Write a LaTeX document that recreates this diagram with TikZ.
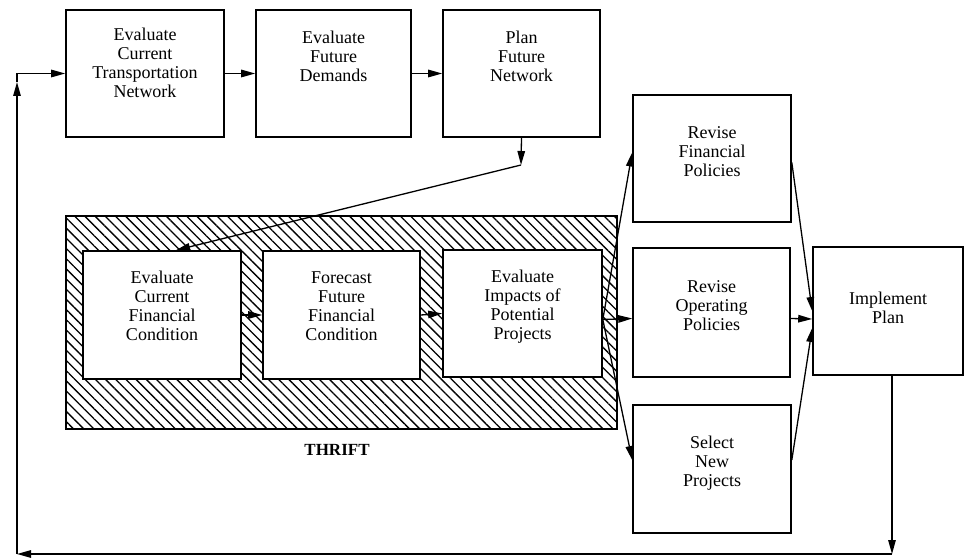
\documentclass[tikz,border=0pt]{standalone}
\usepackage{fontspec}
\setmainfont{Liberation Serif}
\usetikzlibrary{arrows.meta,patterns.meta}
\begin{document}
\begin{tikzpicture}[x=1pt,y=-1pt,
  box/.style={draw, line width=1.6pt, fill=white, align=center, inner sep=0pt,
              font=\fontsize{18}{19}\selectfont},
  lift/.style={text depth=#1},
  arr/.style={line width=1.3pt, -{Triangle[length=14pt,width=7.5pt]}},
  link/.style={line width=1.3pt},
  hatch/.style={draw, line width=1.6pt,
                pattern={Lines[angle=-45, distance=7.2pt, line width=1.3pt]}},
  ]
\useasboundingbox (0,0) rectangle (966,559);

% planning steps along the top
\node[box, minimum width=158pt, minimum height=127pt, lift=22pt] (b1) at (145,73.5)
  {Evaluate\\Current\\Transportation\\Network};
\node[box, minimum width=155pt, minimum height=127pt, lift=34pt] (b2) at (333.5,73.5)
  {Evaluate\\Future\\Demands};
\node[box, minimum width=157pt, minimum height=127pt, lift=34pt] (b3) at (521.5,73.5)
  {Plan\\Future\\Network};

% THRIFT model: hatched frame with its three steps
\path[hatch] (66,216) rectangle (617,429);
\node[box, minimum width=158pt, minimum height=128pt, lift=18pt] (ecf) at (162,315)
  {Evaluate\\Current\\Financial\\Condition};
\node[box, minimum width=157pt, minimum height=128pt, lift=18pt] (ffc) at (341.5,315)
  {Forecast\\Future\\Financial\\Condition};
\node[box, minimum width=159pt, minimum height=127pt, lift=18pt] (eip) at (522.5,313.5)
  {Evaluate\\Impacts of\\Potential\\Projects};
\node[font=\fontsize{17}{17}\selectfont\bfseries] (thrift) at (337,450) {THRIFT};

% decisions
\node[box, minimum width=158pt, minimum height=127pt, lift=14pt] (rfp) at (712,158.5)
  {Revise\\Financial\\Policies};
\node[box, minimum width=157pt, minimum height=129pt, lift=14pt] (rop) at (711.5,312.5)
  {Revise\\Operating\\Policies};
\node[box, minimum width=158pt, minimum height=128pt, lift=16pt] (snp) at (712,469)
  {Select\\New\\Projects};
\node[box, minimum width=150pt, minimum height=128pt, lift=6pt] (ip) at (888,311)
  {Implement\\Plan};

% connectors
\draw[arr] (b1.east) -- (b2.west);
\draw[arr] (b2.east) -- (b3.west);
\coordinate (kink) at (521,165);
\draw[arr] (b3.south) -- (kink);
\draw[arr] (kink) -- ([xshift=14pt]ecf.north);
\draw[arr] (ecf.east) -- (ffc.west);
\draw[arr] (ffc.east) -- (eip.west);

\draw[arr] ([yshift=-6pt]eip.east) -- ([yshift=6pt]rfp.west);
\draw[arr] ([yshift=-6pt]eip.east) -- ([yshift=-6pt]rop.west);
\draw[arr] ([yshift=-6pt]eip.east) -- ([yshift=9pt]snp.west);

\draw[arr] ([yshift=-4pt]rfp.east) -- (ip.west);
\draw[arr] ([yshift=-6pt]rop.east) -- ([yshift=-8pt]ip.west);
\draw[arr] ([yshift=9pt]snp.east) -- ([yshift=-17pt]ip.west);

% feedback loop back to the start
\coordinate (loopR) at (892,554);
\coordinate (loopL) at (17,554);
\coordinate (upTip) at (17,82);
\coordinate (corner) at (b1.west -| loopL);
\draw[arr] ([xshift=4pt]ip.south) -- (loopR);
\draw[arr] (loopR) -- (loopL);
\draw[arr] (loopL) -- (upTip);
\draw[link] (upTip) -- (corner);
\draw[arr] (corner) -- (b1.west);
\end{tikzpicture}
\end{document}
